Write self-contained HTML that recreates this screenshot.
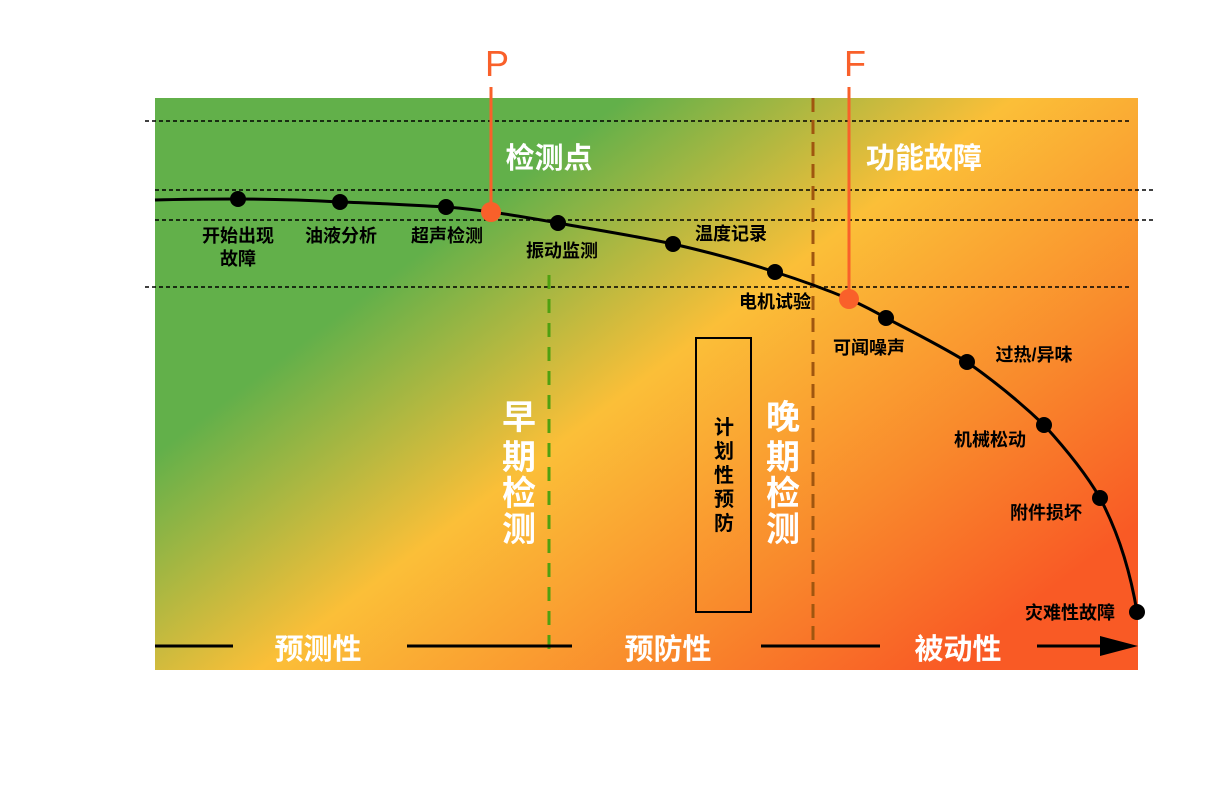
<!DOCTYPE html>
<html><head><meta charset="utf-8"><style>
html,body{margin:0;padding:0;background:#fff;}
svg{display:block;font-family:"Liberation Sans","Noto Sans CJK SC",sans-serif;font-weight:bold;}
</style></head><body>
<svg width="1224" height="792" viewBox="0 0 1224 792" xmlns="http://www.w3.org/2000/svg">
<defs>
<linearGradient id="g" gradientUnits="userSpaceOnUse" x1="275" y1="363" x2="688" y2="908">
<stop offset="0" stop-color="#62b04a"/>
<stop offset="0.345" stop-color="#fbbf38"/>
<stop offset="0.68" stop-color="#f98a2c"/>
<stop offset="0.95" stop-color="#f95a25"/>
</linearGradient>
</defs>
<rect x="155" y="98" width="983" height="572" fill="url(#g)"/>
<g stroke="#000" stroke-width="1.5" stroke-dasharray="4 3">
<line x1="145" y1="121" x2="1132" y2="121"/>
<line x1="155" y1="190" x2="1155" y2="190"/>
<line x1="155" y1="220" x2="1155" y2="220"/>
<line x1="145" y1="287" x2="1132" y2="287"/>
</g>
<line x1="549" y1="275" x2="549" y2="655" stroke="#4fa010" stroke-width="3" stroke-dasharray="14 10"/>
<line x1="813" y1="98" x2="813" y2="645" stroke="#a0560f" stroke-width="3" stroke-dasharray="14 8"/>
<g stroke="#000" stroke-width="3">
<line x1="155" y1="646" x2="233" y2="646"/>
<line x1="407" y1="646" x2="572" y2="646"/>
<line x1="761" y1="646" x2="880" y2="646"/>
<line x1="1037" y1="646" x2="1105" y2="646"/>
</g>
<polygon points="1100,636 1138,646 1100,656" fill="#000"/>
<rect x="696" y="338" width="55" height="274" fill="none" stroke="#000" stroke-width="2"/>
<path d="M155,200 C190,199 215,199 238,199 C270,199 305,200 340,202 C375,203 410,205 446,207 C461,208 476,210 491,212 C513,215 536,219 558,223 C597,230 636,236 673,244 C708,252 742,261 775,272 C800,280 825,289 849,299 C862,305 874,311 886,318 C913,332 941,346 967,362 C994,381 1020,402 1044,425 C1065,448 1085,472 1100,498 C1118,532 1130,570 1137,612" fill="none" stroke="#000" stroke-width="3"/>
<g fill="#000">
<circle cx="238" cy="199" r="8"/><circle cx="340" cy="202" r="8"/><circle cx="446" cy="207" r="8"/>
<circle cx="558" cy="223" r="8"/><circle cx="673" cy="244" r="8"/><circle cx="775" cy="272" r="8"/>
<circle cx="886" cy="318" r="8"/><circle cx="967" cy="362" r="8"/><circle cx="1044" cy="425" r="8"/>
<circle cx="1100" cy="498" r="8"/><circle cx="1137" cy="612" r="8"/>
</g>
<line x1="491" y1="87" x2="491" y2="212" stroke="#f9602a" stroke-width="3"/>
<line x1="849" y1="87" x2="849" y2="299" stroke="#f9602a" stroke-width="3"/>
<circle cx="491" cy="212" r="10" fill="#f9602a"/>
<circle cx="849" cy="299" r="10" fill="#f9602a"/>
<text x="497" y="76" fill="#f9602a" font-size="36" font-weight="normal" text-anchor="middle">P</text>
<text x="855" y="76" fill="#f9602a" font-size="36" font-weight="normal" text-anchor="middle">F</text>
<g fill="#fff" font-size="29" text-anchor="middle">
<text x="549" y="168">检测点</text>
<text x="924" y="168">功能故障</text>
<text x="318" y="659">预测性</text>
<text x="668" y="659">预防性</text>
<text x="958" y="659">被动性</text>
</g>
<g fill="#fff" font-size="34" text-anchor="middle">
<text x="519" y="429">早</text><text x="519" y="469">期</text><text x="519" y="505">检</text><text x="519" y="541">测</text>
<text x="783" y="429">晚</text><text x="783" y="469">期</text><text x="783" y="505">检</text><text x="783" y="541">测</text>
</g>
<g fill="#000" font-size="20" text-anchor="middle">
<text x="724" y="434">计</text><text x="724" y="458">划</text><text x="724" y="482">性</text><text x="724" y="506">预</text><text x="724" y="530">防</text>
</g>
<g fill="#000" font-size="18" text-anchor="middle">
<text x="238" y="242">开始出现</text><text x="238" y="265">故障</text>
<text x="341" y="242">油液分析</text>
<text x="447" y="242">超声检测</text>
<text x="562" y="257">振动监测</text>
<text x="731" y="240">温度记录</text>
<text x="775" y="308">电机试验</text>
<text x="869" y="354">可闻噪声</text>
<text x="1034" y="361">过热/异味</text>
<text x="990" y="446">机械松动</text>
<text x="1046" y="519">附件损坏</text>
<text x="1070" y="619">灾难性故障</text>
</g>
</svg>
</body></html>
